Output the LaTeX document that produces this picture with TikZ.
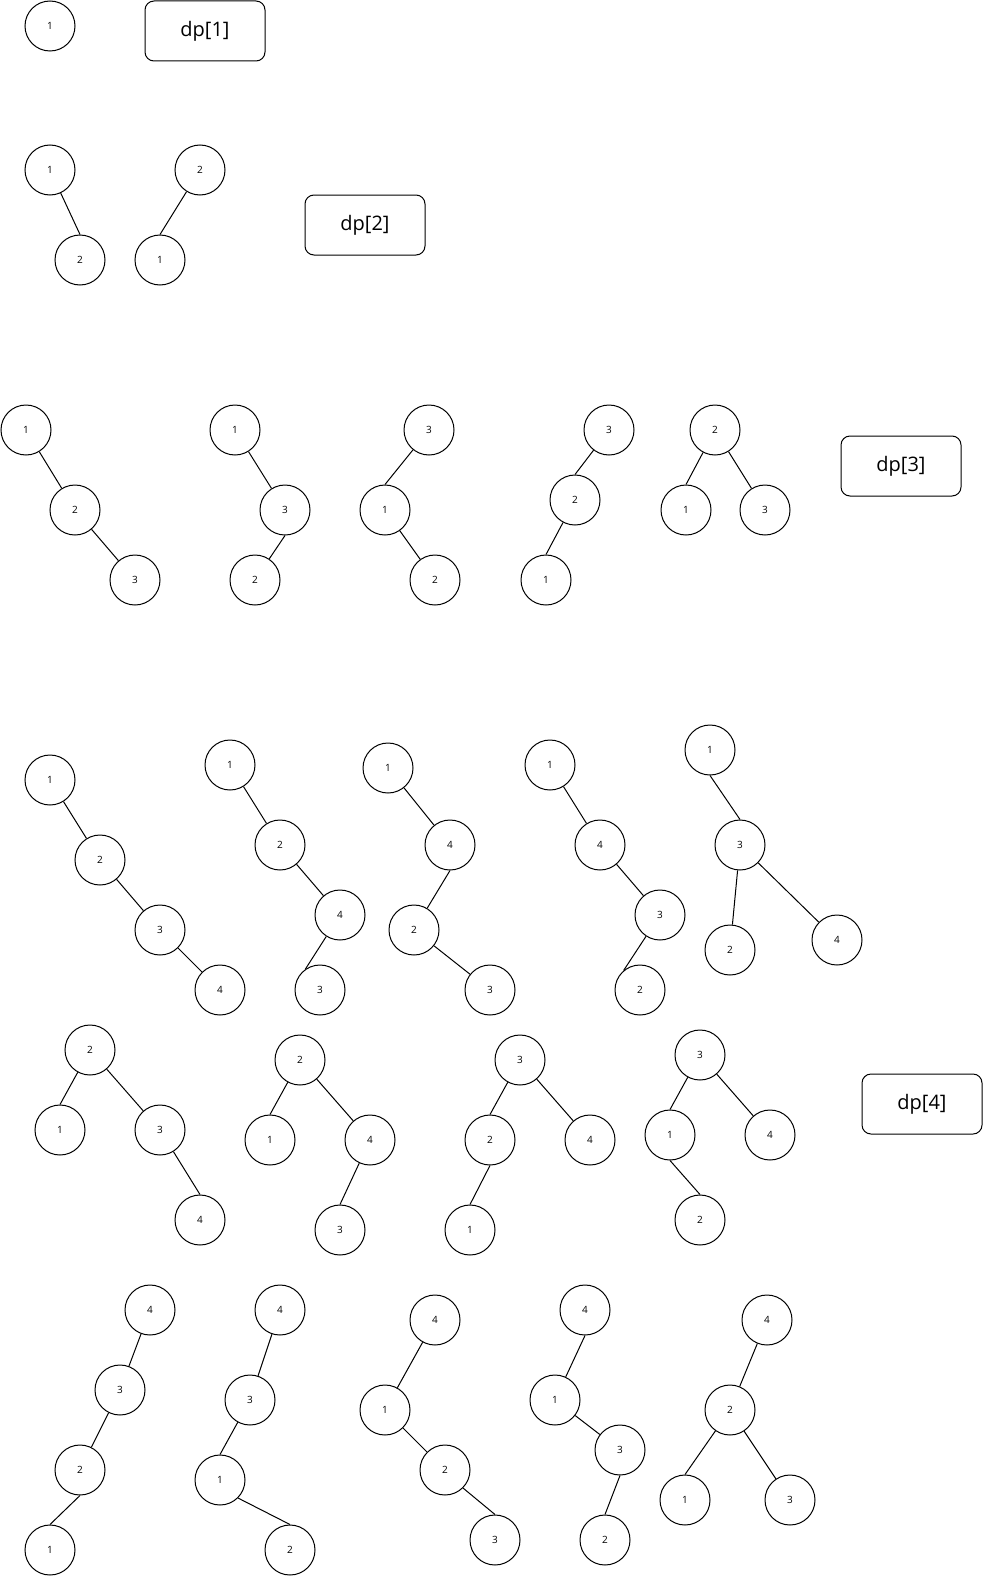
\documentclass[tikz,border=0pt]{standalone}
\usepackage{fontspec}
\setmainfont{Open Sans}
\begin{document}
\begin{tikzpicture}[x=1pt,y=-1pt,line width=1pt,
        vtx/.style={draw,circle,minimum size=50pt,inner sep=0pt,font=\fontsize{10}{12}\selectfont},
        dpbox/.style={draw,rounded corners=9pt,minimum width=120pt,minimum height=60pt,inner sep=0pt,font=\fontsize{20}{24}\selectfont}]
        \useasboundingbox (0,0) rectangle (983,1576);
        % dp[1]
        \node [vtx] (a1) at (50,26) {1};
        \node [dpbox] (dpa) at (205,31) {dp[1]};
        % dp[2]
        \node [vtx] (b1) at (50,170) {1};
        \node [vtx] (b2) at (80,260) {2};
        \node [vtx] (c2) at (200,170) {2};
        \node [vtx] (c1) at (160,260) {1};
        \draw [] (b1)--(b2.north);
        \draw [] (c2)--(c1.north);
        \node [dpbox] (dpb) at (365,225) {dp[2]};
        % dp[3]
        \node [vtx] (d1) at (26,430) {1};
        \node [vtx] (d2) at (75,510) {2};
        \node [vtx] (d3) at (135,580) {3};
        \draw [] (d1)--(d2)--(d3);
        \node [vtx] (e1) at (235,430) {1};
        \node [vtx] (e3) at (285,510) {3};
        \node [vtx] (e2) at (255,580) {2};
        \draw [] (e1)--(e3);
        \draw [] (e3.south)--(e2);
        \node [vtx] (f3) at (429,430) {3};
        \node [vtx] (f1) at (385,510) {1};
        \node [vtx] (f2) at (435,580) {2};
        \draw [] (f3)--(f1.north);
        \draw [] (f1)--(f2);
        \node [vtx] (g3) at (609,430) {3};
        \node [vtx] (g2) at (575,500) {2};
        \node [vtx] (g1) at (546,580) {1};
        \draw [] (g3)--(g2.north);
        \draw [] (g2)--(g1.north);
        \node [vtx] (h2) at (715,430) {2};
        \node [vtx] (h1) at (686,510) {1};
        \node [vtx] (h3) at (765,510) {3};
        \draw [] (h2)--(h1.north);
        \draw [] (h2)--(h3);
        \node [dpbox] (dpc) at (901,466) {dp[3]};
        % dp[4]
        \node [vtx] (i1) at (50,780) {1};
        \node [vtx] (i2) at (100,860) {2};
        \node [vtx] (i3) at (160,930) {3};
        \node [vtx] (i4) at (220,990) {4};
        \draw [] (i1)--(i2)--(i3)--(i4);
        \node [vtx] (j1) at (230,765) {1};
        \node [vtx] (j2) at (280,845) {2};
        \node [vtx] (j4) at (340,915) {4};
        \node [vtx] (j3) at (320,990) {3};
        \draw [] (j1)--(j2)--(j4);
        \draw [] (j4)--(j3.125);
        \node [vtx] (k1) at (388,768) {1};
        \node [vtx] (k4) at (450,845) {4};
        \node [vtx] (k2) at (414,930) {2};
        \node [vtx] (k3) at (490,990) {3};
        \draw [] (k1)--(k4);
        \draw [] (k4.south)--(k2);
        \draw [] (k2)--(k3);
        \node [vtx] (l1) at (550,765) {1};
        \node [vtx] (l4) at (600,845) {4};
        \node [vtx] (l3) at (660,915) {3};
        \node [vtx] (l2) at (640,990) {2};
        \draw [] (l1)--(l4)--(l3);
        \draw [] (l3)--(l2.130);
        \node [vtx] (m1) at (710,750) {1};
        \node [vtx] (m3) at (740,845) {3};
        \node [vtx] (m2) at (730,950) {2};
        \node [vtx] (m4) at (837,940) {4};
        \draw [] (m1.south)--(m3.north);
        \draw [] (m3)--(m2);
        \draw [] (m3)--(m4);
        \node [vtx] (n2) at (90,1050) {2};
        \node [vtx] (n1) at (60,1130) {1};
        \node [vtx] (n3) at (160,1130) {3};
        \node [vtx] (n4) at (200,1220) {4};
        \draw [] (n2)--(n1.north);
        \draw [] (n2)--(n3);
        \draw [] (n3)--(n4.north);
        \node [vtx] (o2) at (300,1060) {2};
        \node [vtx] (o1) at (270,1140) {1};
        \node [vtx] (o4) at (370,1140) {4};
        \node [vtx] (o3) at (340,1230) {3};
        \draw [] (o2)--(o1.north);
        \draw [] (o2)--(o4);
        \draw [] (o4)--(o3.north);
        \node [vtx] (p3) at (520,1060) {3};
        \node [vtx] (p2) at (490,1140) {2};
        \node [vtx] (p4) at (590,1140) {4};
        \node [vtx] (p1) at (470,1230) {1};
        \draw [] (p3)--(p2.north);
        \draw [] (p3)--(p4);
        \draw [] (p2.south)--(p1.north);
        \node [vtx] (q3) at (700,1055) {3};
        \node [vtx] (q1) at (670,1135) {1};
        \node [vtx] (q4) at (770,1135) {4};
        \node [vtx] (q2) at (700,1220) {2};
        \draw [] (q3)--(q1.north);
        \draw [] (q3)--(q4);
        \draw [] (q1.south)--(q2.north);
        \node [dpbox] (dpd) at (922,1104) {dp[4]};
        \node [vtx] (r4) at (150,1310) {4};
        \node [vtx] (r3) at (120,1390) {3};
        \node [vtx] (r2) at (80,1470) {2};
        \node [vtx] (r1) at (50,1550) {1};
        \draw [] (r4)--(r3)--(r2);
        \draw [] (r2.south)--(r1.north);
        \node [vtx] (s4) at (280,1310) {4};
        \node [vtx] (s3) at (250,1400) {3};
        \node [vtx] (s1) at (220,1480) {1};
        \node [vtx] (s2) at (290,1550) {2};
        \draw [] (s4)--(s3);
        \draw [] (s3)--(s1.north);
        \draw [] (s1.-45)--(s2.north);
        \node [vtx] (t4) at (435,1320) {4};
        \node [vtx] (t1) at (385,1410) {1};
        \node [vtx] (t2) at (445,1470) {2};
        \node [vtx] (t3) at (495,1540) {3};
        \draw [] (t4)--(t1)--(t2);
        \draw [] (t2.-45)--(t3.north);
        \node [vtx] (u4) at (585,1310) {4};
        \node [vtx] (u1) at (555,1400) {1};
        \node [vtx] (u3) at (620,1450) {3};
        \node [vtx] (u2) at (605,1540) {2};
        \draw [] (u4.south)--(u1);
        \draw [] (u1)--(u3);
        \draw [] (u3.south)--(u2.north);
        \node [vtx] (v4) at (767,1320) {4};
        \node [vtx] (v2) at (730,1410) {2};
        \node [vtx] (v1) at (685,1500) {1};
        \node [vtx] (v3) at (790,1500) {3};
        \draw [] (v4)--(v2);
        \draw [] (v2)--(v1.north);
        \draw [] (v2)--(v3);
    \end{tikzpicture}
\end{document}
